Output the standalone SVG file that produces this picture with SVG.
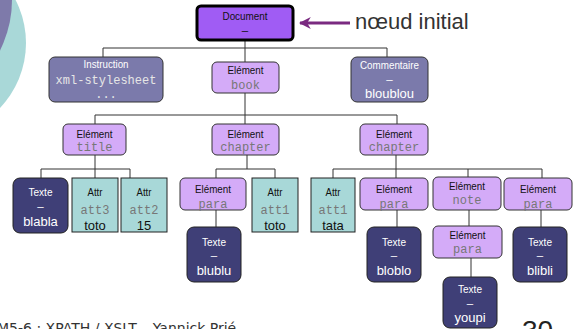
<svg xmlns="http://www.w3.org/2000/svg" width="577" height="329" viewBox="0 0 577 329">
  <defs>
    <marker id="head" viewBox="0 0 10 10" refX="9" refY="5" markerWidth="4" markerHeight="4" orient="auto" markerUnits="strokeWidth">
      <path d="M0,0 L10,5 L0,10 L3,5 Z" fill="#7a2a80"/>
    </marker>
  </defs>
  <style>
    .doc { fill: #a05cf4; stroke: #000; stroke-width: 3; }
    .elem { fill: #d4abf8; stroke: #333; stroke-width: 1; }
    .misc { fill: #7b7aab; stroke: #333; stroke-width: 1; }
    .txt { fill: #3f3f77; stroke: #222; stroke-width: 1; }
    .attr { fill: #a8d8d8; stroke: #222; stroke-width: 1; }
    .lbl { font-family: "Liberation Sans", Arial, sans-serif; font-size: 11.5px; text-anchor: middle; }
    .mono { font-family: "Liberation Mono", "DejaVu Sans Mono", monospace; font-size: 12px; text-anchor: middle; fill: #777; }
    .val { font-family: "Liberation Sans", Arial, sans-serif; font-size: 13px; text-anchor: middle; }
    .dark { fill: #111; }
    .light { fill: #fff; }
    .conn { stroke: #333; stroke-width: 1; fill: none; }
  </style>

  <!-- background decoration -->
  <circle cx="-68" cy="43" r="94" fill="#a9d8d8"/>
  <circle cx="-100" cy="0" r="112" fill="#7e7aaa"/>

  <!-- connectors -->
  <g id="connectors" class="conn">
    <path d="M245,40 V62 M103,57 V48 H387 V57"/>
    <path d="M245,93 V124 M95,124 V115 H397 V124"/>
    <path d="M95,155 V178 M41,178 V169 H130 V178"/>
    <path d="M247,155 V169 M216,178 V169 H275 V178"/>
    <path d="M396,155 V178 M333,178 V169 H542 V178 M468,169 V177"/>
    <path d="M216,210 V227"/>
    <path d="M397,210 V227"/>
    <path d="M469,210 V226"/>
    <path d="M471,258 V277"/>
    <path d="M541,210 V227"/>
  </g>

  <!-- initial node pointer -->
  <g id="pointer">
    <line x1="350" y1="23" x2="300" y2="23" stroke="#7a2a80" stroke-width="3" marker-end="url(#head)"/>
    <text x="355" y="29" font-family="Liberation Sans, Arial, sans-serif" font-size="22" fill="#333">nœud initial</text>
  </g>

  <g id="document">
    <rect class="doc" x="197" y="6" width="96" height="34" rx="4"/>
    <text class="lbl dark" x="245" y="20" textLength="45" lengthAdjust="spacingAndGlyphs">Document</text>
    <text class="lbl dark" x="245" y="34">–</text>
  </g>

  <g id="instruction">
    <rect class="misc" x="49" y="57" width="114" height="45" rx="6"/>
    <text class="lbl light" x="106" y="68" textLength="45" lengthAdjust="spacingAndGlyphs">Instruction</text>
    <text class="mono" x="106" y="84" style="fill:#e6e6e6">xml-stylesheet</text>
    <text class="mono" x="106" y="98" style="fill:#e6e6e6">...</text>
  </g>

  <g id="book">
    <rect class="elem" x="212" y="62" width="67" height="31" rx="5"/>
    <text class="lbl dark" x="245.5" y="74" textLength="36" lengthAdjust="spacingAndGlyphs">Elément</text>
    <text class="mono" x="245.5" y="88.5">book</text>
  </g>

  <g id="comment">
    <rect class="misc" x="351" y="57" width="77" height="45" rx="6"/>
    <text class="lbl light" x="389.5" y="69" textLength="59" lengthAdjust="spacingAndGlyphs">Commentaire</text>
    <text class="lbl light" x="389.5" y="83">–</text>
    <text class="val light" x="389.5" y="97.5">bloublou</text>
  </g>

  <g id="title">
    <rect class="elem" x="63" y="124" width="63" height="31" rx="5"/>
    <text class="lbl dark" x="94.5" y="138" textLength="36" lengthAdjust="spacingAndGlyphs">Elément</text>
    <text class="mono" x="94.5" y="151">title</text>
  </g>

  <g id="chapter1">
    <rect class="elem" x="212" y="124" width="67" height="31" rx="5"/>
    <text class="lbl dark" x="245.5" y="138" textLength="36" lengthAdjust="spacingAndGlyphs">Elément</text>
    <text class="mono" x="245.5" y="151">chapter</text>
  </g>

  <g id="chapter2">
    <rect class="elem" x="360" y="124" width="68" height="31" rx="5"/>
    <text class="lbl dark" x="394" y="138" textLength="36" lengthAdjust="spacingAndGlyphs">Elément</text>
    <text class="mono" x="394" y="151">chapter</text>
  </g>

  <g id="text-blabla">
    <rect class="txt" x="13" y="178" width="55" height="55" rx="7"/>
    <text class="lbl light" x="40.5" y="196" textLength="24" lengthAdjust="spacingAndGlyphs">Texte</text>
    <text class="lbl light" x="40.5" y="210">–</text>
    <text class="val light" x="40.5" y="225.5">blabla</text>
  </g>

  <g id="attr-att3">
    <rect class="attr" x="72" y="178" width="46" height="54"/>
    <text class="lbl dark" x="95" y="196" textLength="15" lengthAdjust="spacingAndGlyphs">Attr</text>
    <text class="mono" x="95" y="214">att3</text>
    <text class="val dark" x="95" y="229.5">toto</text>
  </g>

  <g id="attr-att2">
    <rect class="attr" x="121" y="178" width="46" height="54"/>
    <text class="lbl dark" x="144" y="196" textLength="15" lengthAdjust="spacingAndGlyphs">Attr</text>
    <text class="mono" x="144" y="214">att2</text>
    <text class="val dark" x="144" y="229.5">15</text>
  </g>

  <g id="para1">
    <rect class="elem" x="180" y="178" width="66" height="32" rx="5"/>
    <text class="lbl dark" x="213" y="193" textLength="36" lengthAdjust="spacingAndGlyphs">Elément</text>
    <text class="mono" x="213" y="207.5">para</text>
  </g>

  <g id="attr-att1-toto">
    <rect class="attr" x="252" y="178" width="46" height="54"/>
    <text class="lbl dark" x="275" y="196" textLength="15" lengthAdjust="spacingAndGlyphs">Attr</text>
    <text class="mono" x="275" y="214">att1</text>
    <text class="val dark" x="275" y="229.5">toto</text>
  </g>

  <g id="attr-att1-tata">
    <rect class="attr" x="311" y="178" width="44" height="54"/>
    <text class="lbl dark" x="333" y="196" textLength="15" lengthAdjust="spacingAndGlyphs">Attr</text>
    <text class="mono" x="333" y="214">att1</text>
    <text class="val dark" x="333" y="229.5">tata</text>
  </g>

  <g id="para2">
    <rect class="elem" x="360" y="178" width="68" height="32" rx="5"/>
    <text class="lbl dark" x="394" y="193" textLength="36" lengthAdjust="spacingAndGlyphs">Elément</text>
    <text class="mono" x="394" y="207.5">para</text>
  </g>

  <g id="note">
    <rect class="elem" x="433" y="177" width="68" height="33" rx="5"/>
    <text class="lbl dark" x="467" y="190" textLength="36" lengthAdjust="spacingAndGlyphs">Elément</text>
    <text class="mono" x="467" y="204">note</text>
  </g>

  <g id="para3">
    <rect class="elem" x="504" y="178" width="68" height="32" rx="5"/>
    <text class="lbl dark" x="538" y="193" textLength="36" lengthAdjust="spacingAndGlyphs">Elément</text>
    <text class="mono" x="538" y="207.5">para</text>
  </g>

  <g id="text-blublu">
    <rect class="txt" x="187" y="227" width="54" height="55" rx="7"/>
    <text class="lbl light" x="214" y="246" textLength="24" lengthAdjust="spacingAndGlyphs">Texte</text>
    <text class="lbl light" x="214" y="259">–</text>
    <text class="val light" x="214" y="274.5">blublu</text>
  </g>

  <g id="text-bloblo">
    <rect class="txt" x="367" y="227" width="54" height="55" rx="7"/>
    <text class="lbl light" x="394" y="246" textLength="24" lengthAdjust="spacingAndGlyphs">Texte</text>
    <text class="lbl light" x="394" y="259">–</text>
    <text class="val light" x="394" y="274.5">bloblo</text>
  </g>

  <g id="para4">
    <rect class="elem" x="433" y="226" width="69" height="32" rx="5"/>
    <text class="lbl dark" x="467.5" y="239" textLength="36" lengthAdjust="spacingAndGlyphs">Elément</text>
    <text class="mono" x="467.5" y="253">para</text>
  </g>

  <g id="text-youpi">
    <rect class="txt" x="443" y="277" width="54" height="51" rx="7"/>
    <text class="lbl light" x="470" y="293" textLength="24" lengthAdjust="spacingAndGlyphs">Texte</text>
    <text class="lbl light" x="470" y="307">–</text>
    <text class="val light" x="470" y="322">youpi</text>
  </g>

  <g id="text-blibli">
    <rect class="txt" x="513" y="227" width="54" height="55" rx="7"/>
    <text class="lbl light" x="540" y="246" textLength="24" lengthAdjust="spacingAndGlyphs">Texte</text>
    <text class="lbl light" x="540" y="259">–</text>
    <text class="val light" x="540" y="274.5">blibli</text>
  </g>

  <!-- footer -->
  <text x="-3" y="333" font-family="DejaVu Sans, Verdana, sans-serif" font-size="14" fill="#333">M5-6 : XPATH / XSLT – Yannick Prié</text>
  <text x="522" y="340" font-family="Liberation Sans, Arial, sans-serif" font-size="28" fill="#222">30</text>
</svg>
